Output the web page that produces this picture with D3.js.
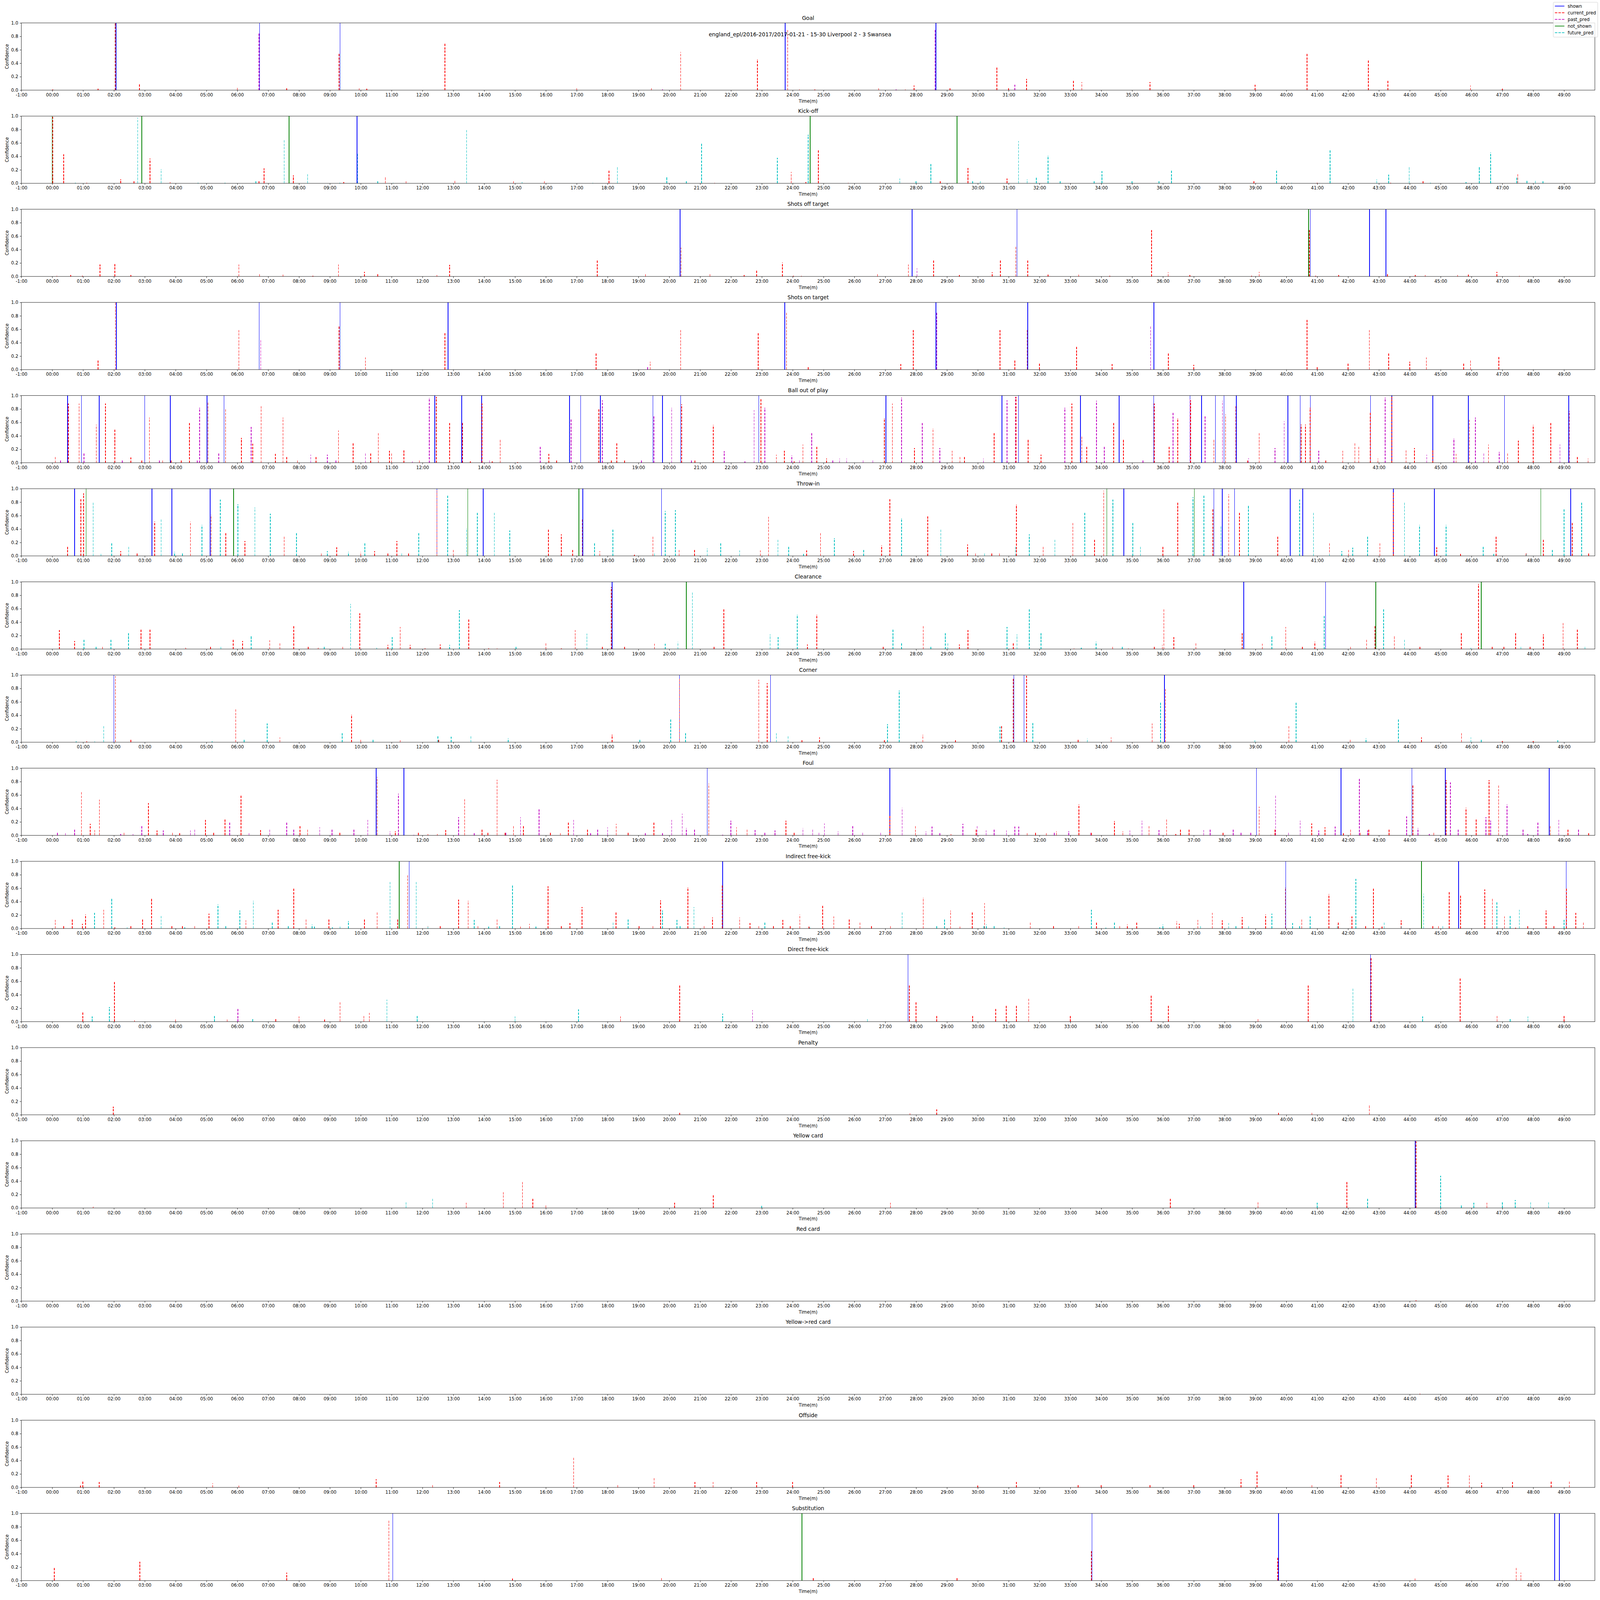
<!DOCTYPE html>
<html><head><meta charset="utf-8">
<script src="https://cdn.jsdelivr.net/npm/d3@7"></script>
<style>html,body{margin:0;padding:0;background:#fff;overflow:hidden}svg{display:block;width:100vw;height:100vh}text{font-family:"DejaVu Sans",sans-serif}</style>
</head><body>
<script>
const suptitleText = "england_epl/2016-2017/2017-01-21 - 15-30 Liverpool 2 - 3 Swansea";
const categories = ["Goal","Kick-off","Shots off target","Shots on target","Ball out of play","Throw-in","Clearance","Corner","Foul","Indirect free-kick","Direct free-kick","Penalty","Yellow card","Red card","Yellow->red card","Offside","Substitution"];
const seriesNames = ["shown","current_pred","past_pred","not_shown","future_pred"];
const xTickValues = d3.range(-1, 50);
const xTickLabels = xTickValues.map(m => m < 0 ? "-1:00" : String(m).padStart(2,"0") + ":00");
const yTickValues = [0, 0.2, 0.4, 0.6, 0.8, 1.0];

// event times (minutes), one list per category
const shownTimes = [
 [2.07,6.72,9.33,23.76,28.64],
 [9.88],
 [20.35,27.87,31.27,40.78,42.7,43.23],
 [2.08,6.71,9.33,12.83,23.74,28.64,31.62,35.71],
 [0.5,0.95,1.52,3.0,3.83,5.02,5.57,12.4,13.27,13.92,16.77,17.13,17.77,19.47,19.78,20.37,22.9,27.02,30.78,31.32,33.33,34.58,35.7,36.88,37.25,37.7,37.98,38.38,40.05,40.45,40.78,42.73,43.42,44.75,45.9,47.07,49.15],
 [0.73,3.23,3.88,5.12,12.47,13.97,17.2,19.75,34.73,37.65,37.92,38.32,40.13,40.53,43.47,44.8,49.22],
 [18.15,38.62,41.27],
 [2.0,20.33,23.28,31.17,31.5,36.05],
 [10.5,11.4,21.23,27.15,39.03,41.77,44.07,45.15,48.52],
 [11.57,21.73,39.98,45.58,49.07],
 [27.74,42.73],
 [],
 [44.18],
 [],
 [],
 [],
 [11.04,33.7,39.75,48.7,48.85]
];
const notShownTimes = [
 [],
 [0.0,2.9,7.68,24.57,29.33],
 [40.72],
 [],
 [],
 [1.1,5.88,13.47,17.07,34.18,37.02,48.25],
 [20.55,42.9,46.32],
 [],
 [],
 [11.25,44.38],
 [],[],[],[],[],[],
 [24.3]
];
// predictions: [minute, confidence]
const currentPred = [
 [[0.02,0.01],[1.49,0.02],[2.04,0.99],[2.83,0.09],[6.0,0.05],[7.6,0.03],[9.3,0.55],[9.95,0.03],[10.2,0.02],[12.73,0.7],[17.0,0.03],[19.42,0.03],[20.37,0.57],[22.86,0.46],[23.84,0.91],[24.22,0.01],[24.72,0.01],[26.79,0.03],[27.65,0.01],[27.93,0.07],[29.1,0.03],[30.62,0.35],[31.0,0.03],[31.58,0.17],[33.1,0.14],[33.37,0.12],[35.58,0.12],[38.99,0.08],[40.67,0.55],[42.66,0.45],[43.29,0.14],[45.97,0.07],[47.0,0.02]],
 [[0.02,0.99],[0.37,0.43],[1.12,0.01],[2.22,0.06],[2.65,0.03],[3.17,0.37],[3.82,0.02],[6.7,0.03],[6.87,0.22],[7.82,0.12],[9.45,0.02],[10.8,0.09],[11.47,0.03],[13.05,0.04],[14.95,0.03],[15.95,0.03],[18.05,0.19],[21.47,0.01],[23.95,0.17],[24.43,0.02],[24.83,0.51],[25.8,0.01],[28.78,0.03],[29.68,0.23],[30.95,0.07],[38.95,0.03],[41.0,0.01],[43.38,0.01],[44.43,0.03],[47.5,0.14]],
 [[0.15,0.01],[0.6,0.02],[0.98,0.01],[1.55,0.18],[2.03,0.19],[2.55,0.02],[6.05,0.18],[6.72,0.04],[7.48,0.03],[8.45,0.01],[9.28,0.18],[10.12,0.07],[10.55,0.04],[12.47,0.02],[12.88,0.17],[17.67,0.25],[19.23,0.04],[20.38,0.43],[21.32,0.05],[22.43,0.02],[22.83,0.09],[23.67,0.21],[24.02,0.01],[24.28,0.01],[26.75,0.04],[27.75,0.18],[28.57,0.24],[29.4,0.02],[30.47,0.06],[30.73,0.24],[31.23,0.45],[31.62,0.24],[32.28,0.03],[33.27,0.03],[34.28,0.01],[35.63,0.7],[36.17,0.06],[36.87,0.02],[38.87,0.01],[39.12,0.07],[40.75,0.7],[40.95,0.01],[41.7,0.02],[43.28,0.04],[44.18,0.02],[44.5,0.02],[45.55,0.02],[45.9,0.03],[46.82,0.07],[47.55,0.01]],
 [[1.49,0.15],[2.05,1.0],[6.05,0.6],[9.3,0.65],[10.15,0.18],[12.73,0.55],[17.63,0.25],[19.38,0.12],[20.37,0.6],[22.88,0.55],[23.8,0.85],[24.5,0.05],[27.5,0.08],[27.91,0.6],[30.72,0.6],[31.2,0.15],[31.6,0.6],[32.0,0.1],[33.2,0.35],[34.35,0.08],[36.18,0.25],[37.0,0.07],[40.67,0.75],[41.0,0.05],[42.0,0.1],[42.69,0.6],[43.32,0.25],[44.0,0.12],[44.54,0.18],[45.75,0.1],[45.97,0.15],[46.89,0.2]],
 [[0.1,0.09],[0.52,0.88],[0.87,0.88],[1.43,0.57],[1.73,0.88],[2.03,0.49],[2.55,0.08],[2.9,0.03],[3.15,0.67],[3.58,0.04],[3.85,0.04],[4.18,0.04],[4.45,0.6],[5.05,0.9],[5.62,0.8],[6.13,0.37],[6.5,0.28],[6.77,0.86],[7.23,0.13],[7.48,0.67],[7.6,0.09],[7.95,0.04],[8.55,0.1],[9.28,0.48],[9.75,0.3],[10.32,0.14],[10.57,0.44],[10.93,0.18],[11.0,0.14],[11.4,0.2],[11.9,0.04],[12.45,0.98],[12.88,0.59],[13.3,0.6],[13.55,0.02],[13.93,0.88],[14.26,0.02],[14.52,0.34],[15.08,0.01],[16.1,0.13],[16.35,0.03],[17.72,0.8],[18.12,0.04],[18.3,0.3],[18.55,0.04],[20.4,0.87],[20.83,0.04],[21.43,0.56],[22.97,0.95],[23.47,0.12],[23.73,0.18],[24.05,0.02],[24.33,0.27],[24.78,0.25],[25.1,0.06],[26.97,0.66],[27.23,0.88],[27.95,0.22],[28.22,0.02],[28.55,0.51],[29.17,0.18],[29.42,0.09],[29.57,0.09],[30.53,0.46],[31.24,0.98],[31.63,0.35],[32.05,0.12],[33.05,0.88],[33.37,0.4],[33.53,0.25],[34.4,0.59],[34.72,0.35],[35.72,0.88],[36.2,0.25],[36.48,0.66],[36.9,0.93],[37.65,0.35],[38.03,0.72],[38.36,0.85],[38.75,0.04],[39.12,0.44],[40.48,0.57],[40.62,0.57],[40.77,0.82],[41.28,0.03],[41.83,0.18],[42.22,0.29],[42.35,0.25],[42.72,0.75],[42.97,0.06],[43.42,0.98],[43.88,0.2],[44.15,0.22],[44.75,0.2],[45.5,0.13],[45.93,0.64],[46.55,0.27],[47.17,0.14],[47.52,0.33],[48.0,0.56],[48.57,0.6],[49.17,0.77],[49.43,0.09],[49.78,0.06]],
 [[0.5,0.14],[0.93,0.85],[1.02,0.93],[2.22,0.07],[2.75,0.04],[3.32,0.51],[4.48,0.51],[5.15,0.61],[5.63,0.34],[6.25,0.22],[7.52,0.3],[8.72,0.04],[9.22,0.13],[10.0,0.06],[10.45,0.07],[10.88,0.04],[11.17,0.22],[11.55,0.04],[12.47,0.98],[13.0,0.09],[16.08,0.4],[16.5,0.32],[16.87,0.09],[17.18,0.54],[17.75,0.07],[18.87,0.02],[19.47,0.3],[20.32,0.09],[20.82,0.09],[22.95,0.08],[23.22,0.58],[24.45,0.08],[24.9,0.35],[25.97,0.07],[26.88,0.16],[27.15,0.86],[28.38,0.59],[29.67,0.17],[29.93,0.04],[30.45,0.05],[30.7,0.05],[31.25,0.76],[32.12,0.14],[33.08,0.5],[33.78,0.25],[34.08,0.97],[36.0,0.14],[36.48,0.8],[37.62,0.7],[38.13,0.92],[38.48,0.65],[39.72,0.29],[41.4,0.19],[42.02,0.09],[43.03,0.2],[43.47,0.96],[44.87,0.13],[45.65,0.03],[46.8,0.29],[47.77,0.04],[48.33,0.25],[49.27,0.5],[49.8,0.04]],
 [[0.23,0.28],[0.73,0.12],[1.63,0.04],[2.88,0.3],[3.17,0.29],[4.33,0.02],[5.13,0.03],[5.87,0.14],[6.17,0.12],[7.05,0.13],[7.38,0.09],[7.83,0.35],[8.3,0.03],[8.62,0.02],[9.42,0.04],[9.97,0.53],[10.88,0.06],[11.28,0.33],[11.6,0.06],[12.08,0.01],[12.58,0.07],[13.5,0.45],[14.15,0.01],[14.42,0.01],[16.0,0.09],[16.5,0.01],[16.95,0.28],[17.83,0.04],[18.12,0.92],[18.55,0.04],[19.52,0.08],[21.45,0.04],[21.77,0.61],[24.48,0.07],[24.78,0.51],[26.93,0.04],[28.23,0.35],[29.4,0.07],[29.68,0.28],[31.15,0.09],[33.12,0.01],[34.37,0.04],[34.88,0.01],[35.72,0.04],[35.98,0.06],[36.03,0.6],[36.35,0.18],[37.07,0.09],[38.57,0.24],[39.22,0.08],[39.98,0.33],[40.52,0.03],[40.92,0.11],[42.08,0.04],[42.6,0.14],[42.87,0.35],[43.5,0.19],[44.33,0.05],[45.67,0.24],[46.23,0.97],[46.67,0.04],[47.05,0.03],[47.43,0.25],[47.9,0.03],[48.33,0.22],[48.97,0.4],[49.43,0.3]],
 [[1.12,0.01],[2.05,0.98],[2.55,0.04],[5.95,0.5],[7.38,0.07],[9.7,0.41],[10.0,0.04],[11.28,0.03],[12.53,0.04],[18.15,0.11],[20.33,0.96],[22.9,0.93],[23.17,0.88],[24.3,0.03],[24.87,0.07],[26.97,0.03],[28.22,0.11],[29.28,0.03],[30.72,0.23],[30.77,0.25],[31.15,0.95],[31.58,0.99],[33.25,0.04],[34.32,0.07],[35.65,0.28],[36.08,0.8],[40.08,0.25],[42.07,0.04],[44.38,0.07],[45.68,0.14],[47.0,0.02],[48.0,0.02]],
 [[0.95,0.64],[1.23,0.17],[1.38,0.08],[1.53,0.53],[2.33,0.04],[3.12,0.48],[3.4,0.07],[3.9,0.04],[4.13,0.03],[4.97,0.23],[5.23,0.04],[5.6,0.25],[6.12,0.6],[6.75,0.08],[8.03,0.14],[8.28,0.09],[9.32,0.04],[10.53,0.87],[11.12,0.06],[11.87,0.04],[12.18,0.02],[12.48,0.02],[12.75,0.08],[13.37,0.54],[13.93,0.09],[14.12,0.04],[14.42,0.83],[14.68,0.04],[14.95,0.15],[15.27,0.15],[16.15,0.04],[16.47,0.03],[16.73,0.2],[17.35,0.09],[18.28,0.17],[18.67,0.04],[19.5,0.19],[21.28,0.77],[22.18,0.12],[22.52,0.09],[23.78,0.22],[24.05,0.04],[27.15,0.3],[27.98,0.14],[29.13,0.02],[29.95,0.09],[31.6,0.03],[31.87,0.04],[32.22,0.03],[32.55,0.06],[33.28,0.46],[33.68,0.04],[34.43,0.21],[34.7,0.06],[35.55,0.14],[36.12,0.24],[36.42,0.02],[36.57,0.09],[36.85,0.09],[37.95,0.04],[39.12,0.43],[39.5,0.01],[39.63,0.1],[40.82,0.18],[41.25,0.12],[41.85,0.03],[42.08,0.09],[42.4,0.04],[42.67,0.09],[43.33,0.09],[44.1,0.75],[44.78,0.04],[45.18,0.82],[45.82,0.41],[46.15,0.25],[46.57,0.82],[46.88,0.74],[48.55,0.15],[49.13,0.09],[49.8,0.03]],
 [[0.1,0.13],[0.37,0.04],[0.65,0.14],[0.98,0.07],[1.08,0.21],[1.67,0.28],[2.03,0.02],[2.55,0.04],[2.93,0.14],[3.22,0.45],[3.88,0.04],[4.22,0.04],[4.62,0.05],[5.08,0.22],[6.28,0.12],[7.32,0.28],[7.83,0.6],[8.23,0.14],[8.97,0.14],[10.12,0.14],[10.53,0.25],[11.2,0.15],[11.52,0.79],[12.18,0.04],[12.58,0.04],[13.17,0.43],[13.48,0.41],[13.8,0.04],[14.42,0.14],[15.18,0.03],[15.47,0.07],[16.07,0.63],[16.5,0.04],[16.78,0.08],[17.17,0.32],[18.27,0.25],[19.02,0.04],[19.47,0.04],[19.72,0.42],[20.6,0.61],[21.13,0.04],[21.4,0.16],[21.72,0.65],[22.28,0.16],[22.62,0.08],[22.9,0.04],[23.38,0.04],[23.68,0.13],[23.92,0.04],[24.23,0.21],[24.53,0.03],[24.97,0.35],[25.33,0.18],[25.83,0.14],[26.18,0.09],[26.55,0.05],[27.17,0.04],[28.23,0.46],[29.12,0.27],[29.42,0.03],[29.82,0.25],[30.22,0.38],[31.7,0.09],[32.45,0.04],[33.27,0.04],[33.85,0.09],[34.6,0.04],[34.85,0.06],[35.15,0.09],[36.45,0.11],[36.53,0.07],[37.13,0.13],[37.6,0.23],[37.92,0.12],[38.57,0.17],[39.33,0.21],[39.97,0.61],[40.5,0.15],[41.38,0.51],[41.68,0.09],[42.13,0.18],[42.57,0.05],[42.82,0.6],[43.1,0.03],[43.72,0.12],[44.75,0.04],[44.93,0.04],[45.28,0.54],[45.65,0.5],[46.43,0.58],[46.68,0.44],[47.07,0.18],[47.43,0.01],[47.82,0.04],[48.42,0.27],[48.67,0.04],[49.08,0.6],[49.38,0.23],[49.63,0.1]],
 [[0.99,0.15],[2.02,0.6],[2.67,0.02],[4.0,0.03],[5.67,0.03],[7.25,0.05],[8.0,0.08],[8.83,0.03],[9.33,0.3],[10.1,0.1],[10.28,0.13],[18.42,0.08],[20.34,0.55],[27.78,0.55],[28.0,0.3],[28.67,0.1],[29.83,0.1],[30.58,0.2],[30.92,0.25],[31.25,0.25],[31.65,0.35],[33.0,0.1],[35.62,0.4],[36.18,0.25],[39.08,0.05],[40.71,0.55],[42.75,0.95],[45.63,0.65],[46.83,0.1],[49.0,0.1]],
 [[1.98,0.12],[20.34,0.03],[27.8,0.02],[28.67,0.08],[39.75,0.03],[40.83,0.03],[42.69,0.15]],
 [[1.33,0.02],[13.42,0.08],[14.62,0.25],[15.24,0.4],[15.58,0.15],[16.0,0.05],[20.17,0.08],[21.43,0.2],[27.17,0.08],[36.24,0.15],[39.08,0.1],[41.96,0.4],[44.2,0.99],[46.5,0.08]],
 [[44.2,0.01]],
 [[15.0,0.01],[44.33,0.01]],
 [[0.92,0.03],[0.99,0.1],[1.52,0.08],[5.2,0.06],[6.05,0.03],[10.5,0.12],[12.33,0.05],[14.5,0.08],[16.9,0.45],[18.33,0.04],[19.51,0.15],[20.83,0.08],[21.42,0.08],[22.83,0.08],[24.0,0.08],[30.0,0.03],[31.25,0.08],[33.25,0.05],[34.0,0.05],[35.58,0.05],[37.0,0.05],[38.53,0.12],[39.05,0.25],[40.83,0.05],[41.77,0.2],[42.92,0.15],[44.05,0.2],[45.24,0.18],[45.93,0.18],[46.33,0.07],[47.33,0.08],[48.58,0.1],[49.17,0.1]],
 [[0.07,0.2],[2.84,0.28],[7.6,0.12],[10.91,0.9],[14.92,0.03],[19.75,0.05],[24.67,0.05],[29.33,0.05],[33.68,0.45],[39.72,0.35],[44.17,0.03],[47.45,0.2],[47.6,0.12]]
];
const pastPred = [
 [[6.7,0.85],[19.78,0.01],[27.35,0.01],[28.62,0.9],[31.2,0.08]],
 [],
 [[28.03,0.12]],
 [[6.76,0.45],[19.3,0.05],[28.67,0.85],[35.6,0.65]],
 [[0.27,0.04],[1.03,0.15],[2.27,0.04],[3.47,0.04],[4.7,0.03],[4.78,0.82],[5.4,0.14],[6.45,0.53],[8.38,0.12],[8.92,0.12],[9.2,0.04],[10.15,0.14],[11.67,0.02],[12.22,0.96],[14.18,0.03],[15.82,0.25],[16.82,0.65],[17.83,0.93],[19.1,0.03],[19.5,0.7],[20.08,0.82],[20.72,0.04],[21.78,0.17],[22.45,0.02],[22.75,0.78],[23.1,0.82],[23.97,0.11],[24.22,0.04],[24.62,0.44],[25.3,0.04],[25.52,0.06],[25.75,0.06],[26.28,0.04],[26.6,0.04],[27.53,0.97],[28.2,0.6],[28.77,0.22],[30.18,0.06],[30.95,0.93],[31.22,0.98],[32.82,0.82],[33.85,0.92],[34.1,0.25],[35.35,0.04],[36.33,0.75],[36.88,0.95],[37.37,0.71],[37.93,0.92],[38.78,0.07],[39.63,0.22],[39.93,0.62],[41.05,0.18],[43.2,0.97],[44.55,0.12],[45.43,0.36],[46.13,0.67],[46.4,0.15],[46.9,0.16],[48.87,0.27]],
 [],
 [],
 [],
 [[0.17,0.04],[0.43,0.03],[0.73,0.09],[2.22,0.02],[2.62,0.02],[2.9,0.14],[3.6,0.07],[4.48,0.07],[4.62,0.09],[5.75,0.19],[6.38,0.03],[7.05,0.09],[7.6,0.2],[7.83,0.09],[8.67,0.12],[9.07,0.09],[9.78,0.09],[10.23,0.23],[10.95,0.06],[11.22,0.62],[11.72,0.01],[13.17,0.27],[13.68,0.03],[14.7,0.04],[15.18,0.27],[15.78,0.4],[16.9,0.23],[17.45,0.03],[17.68,0.09],[18.0,0.12],[19.22,0.03],[19.78,0.03],[20.08,0.23],[20.42,0.32],[20.55,0.11],[20.82,0.09],[21.73,0.01],[22.0,0.22],[22.78,0.08],[23.1,0.04],[23.43,0.07],[24.33,0.11],[24.65,0.09],[24.85,0.04],[25.03,0.18],[25.47,0.06],[25.95,0.14],[26.27,0.04],[26.85,0.04],[27.55,0.41],[28.32,0.06],[28.52,0.13],[28.77,0.03],[29.52,0.17],[29.98,0.14],[30.27,0.07],[30.53,0.09],[30.93,0.07],[31.2,0.13],[31.33,0.13],[32.48,0.04],[32.95,0.06],[33.65,0.04],[34.93,0.07],[35.32,0.22],[35.87,0.08],[37.32,0.08],[37.53,0.09],[38.28,0.09],[38.53,0.04],[38.85,0.04],[39.65,0.59],[40.07,0.04],[40.45,0.22],[41.05,0.07],[41.58,0.13],[42.37,0.86],[42.63,0.07],[43.9,0.28],[44.27,0.11],[44.63,0.02],[45.32,0.79],[45.57,0.09],[46.47,0.27],[46.62,0.22],[47.15,0.46],[47.67,0.09],[47.82,0.02],[48.15,0.2],[48.83,0.23],[49.47,0.09]],
 [],
 [[6.02,0.2],[22.7,0.17]],
 [],[],[],[],[],[]
];
const futurePred = [
 [],
 [[0.75,0.01],[2.77,0.98],[3.53,0.21],[4.73,0.01],[5.6,0.01],[6.6,0.03],[7.52,0.64],[8.28,0.14],[9.32,0.01],[9.9,0.45],[10.55,0.03],[11.05,0.01],[13.43,0.79],[15.23,0.02],[17.52,0.01],[18.32,0.24],[19.92,0.09],[20.55,0.03],[21.05,0.59],[23.5,0.38],[24.5,0.72],[27.47,0.07],[28.0,0.03],[28.48,0.3],[29.83,0.03],[30.08,0.03],[31.32,0.63],[31.6,0.06],[31.9,0.08],[32.28,0.41],[32.67,0.03],[33.77,0.03],[34.02,0.18],[35.0,0.03],[35.87,0.03],[36.28,0.19],[39.68,0.19],[40.17,0.01],[41.42,0.5],[42.93,0.06],[43.32,0.13],[43.98,0.25],[44.67,0.01],[45.82,0.02],[46.25,0.24],[46.62,0.46],[47.47,0.08],[47.8,0.04],[48.07,0.04],[48.32,0.03]],
 [],
 [],
 [],
 [[1.33,0.79],[1.58,0.03],[1.93,0.19],[2.48,0.14],[3.53,0.54],[3.97,0.06],[4.22,0.04],[4.85,0.46],[5.45,0.84],[6.02,0.77],[6.57,0.72],[7.07,0.63],[7.92,0.34],[8.92,0.07],[9.6,0.06],[10.13,0.19],[11.33,0.04],[11.88,0.34],[12.82,0.9],[13.43,0.41],[13.78,0.64],[14.33,0.66],[14.83,0.38],[17.58,0.2],[18.17,0.4],[19.52,0.04],[19.87,0.67],[20.2,0.68],[21.23,0.11],[21.67,0.2],[22.28,0.08],[23.52,0.25],[23.87,0.15],[24.35,0.03],[25.35,0.26],[26.3,0.09],[27.53,0.56],[28.8,0.39],[30.22,0.04],[31.22,0.15],[31.67,0.32],[32.5,0.24],[33.47,0.66],[34.38,0.84],[35.02,0.5],[35.27,0.14],[36.97,0.87],[37.33,0.9],[37.88,0.44],[38.77,0.75],[40.43,0.84],[40.88,0.65],[41.4,0.03],[41.8,0.07],[42.15,0.12],[42.63,0.3],[43.83,0.8],[44.32,0.46],[45.18,0.46],[46.38,0.14],[46.72,0.03],[47.78,0.03],[48.62,0.1],[49.0,0.7],[49.57,0.79]],
 [[1.03,0.15],[1.42,0.04],[1.9,0.15],[2.47,0.25],[5.47,0.04],[6.45,0.2],[8.82,0.04],[9.67,0.67],[10.52,0.02],[11.02,0.18],[12.88,0.06],[13.2,0.58],[15.03,0.04],[17.33,0.23],[19.87,0.08],[20.28,0.11],[20.75,0.84],[23.27,0.22],[23.53,0.18],[24.15,0.51],[27.25,0.29],[27.53,0.09],[28.48,0.04],[28.95,0.24],[29.03,0.09],[30.95,0.33],[31.27,0.22],[31.67,0.59],[32.05,0.24],[33.35,0.02],[33.83,0.11],[34.68,0.04],[39.53,0.2],[41.23,0.5],[43.15,0.61],[43.83,0.15],[45.98,0.02],[47.6,0.04],[49.68,0.04]],
 [[0.78,0.01],[1.38,0.01],[1.67,0.24],[5.18,0.01],[6.22,0.04],[6.97,0.28],[9.4,0.14],[10.4,0.04],[12.5,0.09],[12.93,0.08],[13.57,0.09],[14.78,0.06],[19.05,0.04],[20.05,0.34],[20.53,0.15],[23.47,0.15],[23.85,0.09],[27.07,0.27],[27.45,0.77],[30.72,0.23],[31.78,0.3],[33.55,0.06],[35.92,0.59],[38.98,0.03],[40.32,0.59],[42.58,0.06],[43.63,0.35],[45.98,0.07],[46.32,0.04],[48.8,0.03]],
 [],
 [[1.37,0.23],[1.93,0.44],[2.43,0.02],[3.53,0.2],[4.3,0.02],[5.37,0.36],[5.63,0.04],[6.08,0.27],[6.52,0.41],[7.13,0.09],[7.65,0.04],[8.42,0.06],[8.5,0.03],[9.08,0.02],[9.33,0.03],[9.6,0.11],[10.95,0.7],[11.8,0.69],[12.18,0.03],[13.68,0.13],[14.15,0.03],[14.5,0.04],[14.92,0.65],[15.68,0.03],[18.18,0.09],[18.67,0.14],[19.78,0.27],[20.25,0.13],[20.35,0.04],[20.8,0.32],[23.1,0.09],[24.55,0.01],[27.55,0.24],[28.67,0.04],[28.92,0.14],[30.2,0.04],[30.28,0.06],[30.53,0.04],[30.85,0.02],[33.68,0.28],[34.15,0.01],[34.43,0.09],[35.9,0.02],[36.0,0.06],[37.22,0.04],[38.13,0.08],[38.37,0.04],[38.78,0.04],[39.53,0.22],[40.2,0.08],[40.43,0.04],[40.77,0.18],[41.65,0.06],[42.25,0.74],[43.17,0.09],[43.73,0.04],[44.45,0.52],[45.07,0.04],[46.82,0.39],[47.25,0.2],[47.55,0.28],[49.0,0.13]],
 [[1.3,0.08],[1.85,0.22],[5.26,0.1],[6.5,0.05],[10.85,0.33],[11.83,0.1],[15.0,0.08],[17.06,0.18],[21.73,0.12],[26.42,0.05],[42.16,0.5],[44.42,0.08],[47.25,0.05],[47.83,0.08]],
 [],
 [[11.47,0.1],[12.33,0.15],[23.0,0.03],[41.0,0.08],[42.63,0.15],[45.0,0.48],[45.67,0.05],[46.08,0.08],[47.0,0.1],[47.42,0.12],[47.92,0.1],[48.5,0.1]],
 [],[],[],[]
];

// ---------- drawing ----------
const W = 5000, H = 5000;
const left = 66.7, right = 4984, firstTop = 71.7, pitch = 291.1, panelH = 210;
const LW = 2.0, DASH = "7.4,3.2";
const colors = {shown:"#0000ff", current_pred:"#ff0000", past_pred:"#bf00bf", not_shown:"#008000", future_pred:"#00bfbf"};
const dashed = {shown:false, current_pred:true, past_pred:true, not_shown:false, future_pred:true};

const svg = d3.select("body").append("svg")
  .attr("viewBox", `0 0 ${W} ${H}`).attr("preserveAspectRatio", "xMinYMin meet");
svg.append("rect").attr("width", W).attr("height", H).attr("fill", "#fff");

const x = d3.scaleLinear().domain([-1, 50]).range([left, right]);

categories.forEach((cat, i) => {
  const top = firstTop + pitch * i, bottom = top + panelH;
  const y = d3.scaleLinear().domain([0, 1]).range([bottom, top]);
  const g = svg.append("g");

  const series = {
    shown: shownTimes[i].map(t => [t, 1]),
    current_pred: currentPred[i],
    past_pred: pastPred[i],
    not_shown: notShownTimes[i].map(t => [t, 1]),
    future_pred: futurePred[i]
  };
  seriesNames.forEach(name => {
    g.append("g").attr("shape-rendering", "crispEdges")
      .selectAll("line").data(series[name]).join("line")
      .attr("x1", d => x(d[0])).attr("x2", d => x(d[0]))
      .attr("y1", y(0)).attr("y2", d => y(d[1]))
      .attr("stroke", colors[name]).attr("stroke-width", LW)
      .attr("stroke-dasharray", dashed[name] ? DASH : null)
      .attr("stroke-linecap", "butt");
  });

  g.append("rect").attr("x", left).attr("y", top).attr("width", right - left).attr("height", panelH)
    .attr("fill", "none").attr("stroke", "#000").attr("stroke-width", 1.1);

  const xAxis = d3.axisBottom(x).tickValues(xTickValues)
    .tickFormat((d, k) => xTickLabels[k]).tickSize(4.9).tickPadding(4.9).tickSizeOuter(0);
  const xg = g.append("g").attr("transform", `translate(0,${bottom})`).call(xAxis);
  const yAxis = d3.axisLeft(y).tickValues(yTickValues).tickFormat(d3.format(".1f"))
    .tickSize(4.9).tickPadding(4.9).tickSizeOuter(0);
  const yg = g.append("g").attr("transform", `translate(${left},0)`).call(yAxis);
  [xg, yg].forEach(a => {
    a.select(".domain").remove();
    a.selectAll(".tick line").attr("stroke", "#000").attr("stroke-width", 1.1);
    a.selectAll(".tick text").attr("font-size", 13.9).attr("fill", "#000")
      .attr("font-family", "DejaVu Sans");
  });

  g.append("text").attr("x", (left + right) / 2).attr("y", bottom + 39)
    .attr("text-anchor", "middle").attr("font-size", 13.9).text("Time(m)");
  g.append("text").attr("transform", `translate(21.7,${(top + bottom) / 2}) rotate(-90)`)
    .attr("text-anchor", "middle").attr("dominant-baseline", "central")
    .attr("font-size", 13.9).text("Confidence");
  g.append("text").attr("x", (left + right) / 2).attr("y", top - 10)
    .attr("text-anchor", "middle").attr("font-size", 16.7).text(cat);
});

svg.append("text").attr("x", W / 2).attr("y", 113).attr("text-anchor", "middle")
  .attr("font-size", 16.7).text(suptitleText);

// legend
const lg = svg.append("g");
lg.append("rect").attr("x", 4854).attr("y", 7).attr("width", 139).attr("height", 109).attr("rx", 3)
  .attr("fill", "#fff").attr("fill-opacity", 0.8).attr("stroke", "#cccccc").attr("stroke-width", 1.1);
seriesNames.forEach((name, k) => {
  const cy = 19 + 20.8 * k;
  lg.append("line").attr("x1", 4859).attr("x2", 4888.7).attr("y1", cy).attr("y2", cy)
    .attr("stroke", colors[name]).attr("stroke-width", 2.08)
    .attr("stroke-dasharray", dashed[name] ? "7.7,3.3" : null);
  lg.append("text").attr("x", 4899).attr("y", cy).attr("dominant-baseline", "central")
    .attr("font-size", 13.9).text(name);
});
</script>
</body></html>
